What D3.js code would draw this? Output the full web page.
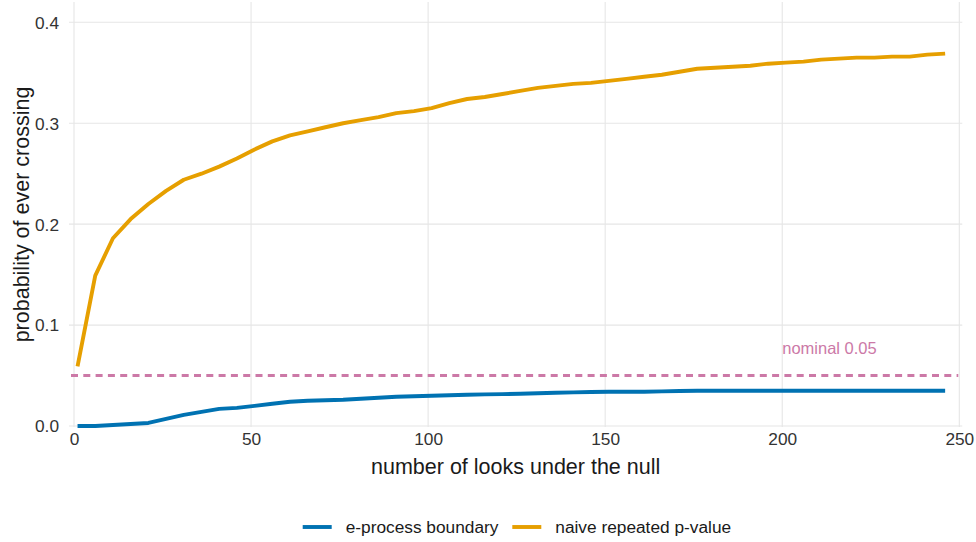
<!DOCTYPE html>
<html>
<head>
<meta charset="utf-8">
<script src="https://cdn.jsdelivr.net/npm/d3@7"></script>
<style>
  html, body { margin: 0; padding: 0; background: #ffffff; }
  svg { display: block; font-family: "Liberation Sans", Arial, Helvetica, sans-serif; }
</style>
</head>
<body>
<svg id="chart" width="976" height="542"></svg>
<script>
// ---- data ----
const looks = [1, 6, 11, 16, 21, 26, 31, 36, 41, 46, 51, 56, 61, 66, 71, 76, 81, 86, 91, 96,
  101, 106, 111, 116, 121, 126, 131, 136, 141, 146, 151, 156, 161, 166, 171, 176, 181, 186, 191, 196,
  201, 206, 211, 216, 221, 226, 231, 236, 241, 246];
const naive = [0.059, 0.149, 0.186, 0.205, 0.220, 0.233, 0.244, 0.250, 0.257, 0.265,
  0.274, 0.282, 0.288, 0.292, 0.296, 0.300, 0.303, 0.306, 0.310, 0.312,
  0.315, 0.320, 0.324, 0.326, 0.329, 0.332, 0.335, 0.337, 0.339, 0.340,
  0.342, 0.344, 0.346, 0.348, 0.351, 0.354, 0.355, 0.356, 0.357, 0.359,
  0.360, 0.361, 0.363, 0.364, 0.365, 0.365, 0.366, 0.366, 0.368, 0.369];
const eprocess = [0.000, 0.000, 0.001, 0.002, 0.003, 0.007, 0.011, 0.014, 0.017, 0.018,
  0.020, 0.022, 0.024, 0.025, 0.0255, 0.026, 0.027, 0.028, 0.029, 0.0295,
  0.030, 0.0305, 0.031, 0.0313, 0.0316, 0.032, 0.0325, 0.033, 0.0333, 0.0337,
  0.034, 0.034, 0.034, 0.0343, 0.0347, 0.035, 0.035, 0.035, 0.035, 0.035,
  0.035, 0.035, 0.035, 0.035, 0.035, 0.035, 0.035, 0.035, 0.035, 0.035];
const nominal = 0.05;
const xTicks = [0, 50, 100, 150, 200, 250];
const yTicks = [0.0, 0.1, 0.2, 0.3, 0.4];
const seriesNames = ["e-process boundary", "naive repeated p-value"];
const seriesColors = ["#0072B2", "#E69F00"];
const nominalLabel = "nominal 0.05";
const nominalLabelX = 200;
const nominalLabelY = 0.0775;
const xTitle = "number of looks under the null";
const yTitle = "probability of ever crossing";

// ---- layout ----
const svg = d3.select("#chart");
const panel = { left: 69, right: 962.3, top: 2, bottom: 427 };
const x = d3.scaleLinear().domain([0, 250]).range([74, 959.3]);
const y = d3.scaleLinear().domain([0, 0.4]).range([426, 22.3]);

// grid
const grid = svg.append("g");
grid.selectAll("line.v").data(xTicks).join("line")
  .attr("x1", d => x(d)).attr("x2", d => x(d))
  .attr("y1", panel.top).attr("y2", panel.bottom)
  .attr("stroke", "#e6e6e6").attr("stroke-width", 1.1);
grid.selectAll("line.h").data(yTicks).join("line")
  .attr("x1", panel.left).attr("x2", panel.right)
  .attr("y1", d => y(d)).attr("y2", d => y(d))
  .attr("stroke", "#e6e6e6").attr("stroke-width", 1.1);

// axes (labels only)
const xAxis = svg.append("g").attr("transform", `translate(0,${panel.bottom + 2})`)
  .call(d3.axisBottom(x).tickValues(xTicks).tickSize(0).tickPadding(4).tickFormat(d3.format("d")));
const yAxis = svg.append("g").attr("transform", `translate(${panel.left - 4},0)`)
  .call(d3.axisLeft(y).tickValues(yTicks).tickSize(0).tickPadding(6).tickFormat(d3.format(".1f")));
[xAxis, yAxis].forEach(a => {
  a.select(".domain").remove();
  a.selectAll("text").attr("font-size", 17.3).attr("fill", "#333333")
    .attr("font-family", "'Liberation Sans', Arial, Helvetica, sans-serif");
});
xAxis.selectAll("text").attr("dy", "0.71em");
yAxis.selectAll("text").attr("dy", "0.34em");

// nominal line
svg.append("line")
  .attr("x1", panel.left + 2).attr("x2", panel.right - 4)
  .attr("y1", y(nominal)).attr("y2", y(nominal))
  .attr("stroke", "#CC79A7").attr("stroke-width", 3)
  .attr("stroke-dasharray", "7,5.3");

svg.append("text")
  .attr("x", x(nominalLabelX)).attr("y", y(nominalLabelY))
  .attr("dy", "0.35em")
  .attr("font-size", 16.5).attr("fill", "#CC79A7")
  .text(nominalLabel);

// series lines
const line = d3.line().x(d => x(d[0])).y(d => y(d[1]));
const seriesData = [eprocess, naive];
seriesData.forEach((vals, i) => {
  svg.append("path")
    .datum(looks.map((l, j) => [l, vals[j]]))
    .attr("d", line)
    .attr("fill", "none")
    .attr("stroke", seriesColors[i])
    .attr("stroke-width", 3.9)
    .attr("stroke-linejoin", "round");
});

// axis titles
svg.append("text")
  .attr("x", (panel.left + panel.right) / 2).attr("y", 466)
  .attr("dy", "0.35em").attr("text-anchor", "middle")
  .attr("font-size", 21.5).attr("fill", "#1a1a1a")
  .text(xTitle);
svg.append("text")
  .attr("transform", `translate(21,${(panel.top + panel.bottom) / 2}) rotate(-90)`)
  .attr("dy", "0.35em").attr("text-anchor", "middle")
  .attr("font-size", 21.5).attr("fill", "#1a1a1a")
  .text(yTitle);

// legend
const legendX = [302.7, 512.3];
const legend = svg.append("g");
seriesNames.forEach((name, i) => {
  legend.append("line")
    .attr("x1", legendX[i]).attr("x2", legendX[i] + 29)
    .attr("y1", 527).attr("y2", 527)
    .attr("stroke", seriesColors[i]).attr("stroke-width", 3.9);
  legend.append("text")
    .attr("x", legendX[i] + 43).attr("y", 527)
    .attr("dy", "0.35em")
    .attr("font-size", 17.3).attr("fill", "#1a1a1a")
    .text(name);
});
</script>
</body>
</html>
